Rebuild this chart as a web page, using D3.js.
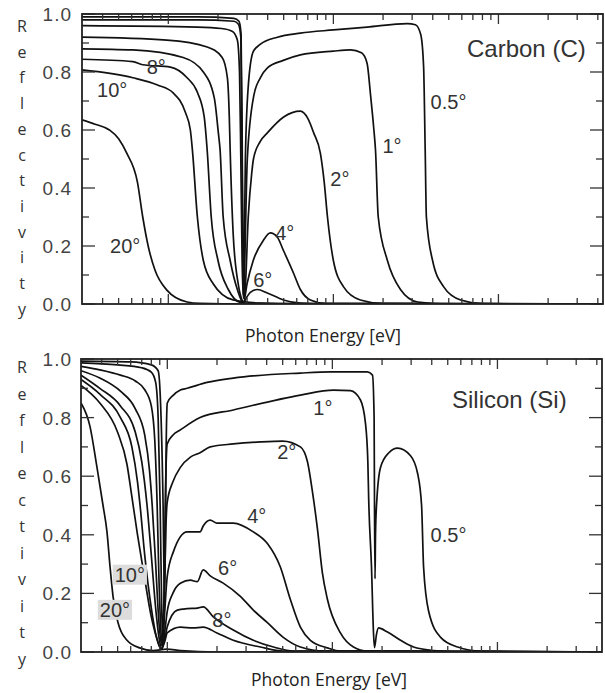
<!doctype html>
<html>
<head>
<meta charset="utf-8"/>
<title>Reflectivity C and Si</title>
<script src="https://d3js.org/d3.v7.min.js"></script>
<style>
body { margin:0; background:#fff; }
svg { display:block; }
</style>
</head>
<body>
<div id="chart"></div>
<script type="text/javascript">
// ---------------- data (photon energy in eV, reflectivity) ----------------
var energyDomain = [30, 43000];
var majorEnergyTicks = [100, 1000, 10000];
var minorEnergyTicks = [40,50,60,70,80,90,200,300,400,500,600,700,800,900,
                        2000,3000,4000,5000,6000,7000,8000,9000,20000,30000,40000];
var majorReflTicks = [0, 0.2, 0.4, 0.6, 0.8, 1.0];
var minorReflTicks = [0.1, 0.3, 0.5, 0.7, 0.9];
var yLetters = ["R","e","f","l","e","c","t","i","v","i","t","y"];
var xTitle = "Photon Energy [eV]";

// Carbon
var carbon05 = [[30,0.99],[150,0.99],[250,0.985],[268,0.975],[276,0.93],[280,0.6],[283,0.15],[285,0.03],[288,0.15],[293,0.5],[305,0.75],[327,0.87],[360,0.895],[458,0.92],[631,0.934],[1000,0.945],[1600,0.955],[2800,0.967],[3140,0.963],[3380,0.93],[3520,0.82],[3600,0.53],[3660,0.30],[3990,0.15],[4650,0.06],[5900,0.014],[8000,0.002],[43000,0]];
var carbon1 = [[30,0.98],[150,0.98],[250,0.975],[266,0.965],[275,0.92],[280,0.5],[284,0.08],[287,0.02],[292,0.2],[301,0.5],[330,0.72],[361,0.78],[400,0.815],[497,0.84],[631,0.859],[1000,0.872],[1270,0.876],[1480,0.866],[1600,0.83],[1680,0.72],[1760,0.6],[1800,0.53],[1870,0.30],[2125,0.15],[2550,0.05],[3240,0.007],[5000,0],[43000,0]];
var carbon2 = [[30,0.96],[150,0.955],[210,0.95],[245,0.94],[262,0.91],[270,0.80],[275,0.5],[280,0.15],[285,0.02],[292,0.05],[305,0.3],[320,0.45],[328,0.5],[360,0.56],[398,0.59],[500,0.645],[631,0.665],[700,0.64],[760,0.59],[834,0.52],[880,0.42],[921,0.30],[1000,0.15],[1150,0.06],[1456,0.014],[2000,0.002],[43000,0]];
var carbon4 = [[30,0.92],[98,0.91],[172,0.886],[212,0.85],[228,0.78],[234,0.65],[237,0.53],[247,0.245],[265,0.07],[281,0.01],[285,0.003],[300,0.07],[327,0.15],[377,0.22],[415,0.245],[458,0.23],[497,0.186],[573,0.107],[631,0.05],[726,0.014],[900,0.002],[43000,0]];
var carbon6 = [[30,0.88],[61,0.876],[123,0.85],[163,0.80],[190,0.71],[201,0.59],[206,0.53],[215,0.30],[237,0.15],[262,0.05],[284,0.005],[300,0.025],[314,0.04],[346,0.05],[398,0.038],[498,0.014],[631,0.003],[1000,0],[43000,0]];
var carbon8 = [[30,0.844],[61,0.836],[70,0.825],[103,0.817],[130,0.78],[150,0.73],[165,0.645],[172,0.53],[182,0.30],[200,0.15],[231,0.05],[273,0.005],[300,0.002],[43000,0]];
var carbon10 = [[30,0.807],[61,0.78],[86,0.755],[107,0.728],[127,0.66],[136,0.60],[140,0.53],[150,0.30],[163,0.15],[187,0.07],[247,0.014],[361,0.003],[600,0],[43000,0]];
var carbon20 = [[30,0.635],[36,0.62],[44,0.60],[50,0.57],[56,0.52],[65,0.42],[70,0.30],[75.5,0.20],[83,0.117],[98,0.048],[130,0.007],[156,0.002],[300,0],[43000,0]];

// Silicon
var silicon05 = [[30,0.993],[60,0.99],[80,0.98],[88,0.96],[91,0.85],[94.3,0.5],[96,0.2],[97,0.3],[98.4,0.7],[100,0.85],[108,0.875],[120,0.894],[132,0.90],[174,0.92],[251,0.935],[640,0.952],[973,0.956],[1630,0.956],[1750,0.945],[1790,0.8],[1800,0.5],[1813,0.25],[1825,0.4],[1851,0.5],[1957,0.63],[2200,0.68],[2481,0.696],[2976,0.67],[3282,0.61],[3471,0.50],[3569,0.29],[3827,0.14],[4527,0.05],[5740,0.017],[7914,0.003],[43000,0]];
var silicon1 = [[30,0.987],[50,0.98],[70,0.97],[80,0.955],[85,0.92],[88,0.8],[90.5,0.5],[92.5,0.15],[94,0.03],[95.5,0.2],[97.5,0.55],[99.8,0.71],[108,0.74],[120,0.758],[158,0.80],[251,0.826],[640,0.877],[1015,0.894],[1287,0.892],[1480,0.86],[1587,0.78],[1640,0.65],[1660,0.52],[1726,0.29],[1775,0.065],[1800,0.015],[1850,0.06],[1903,0.082],[2158,0.068],[2588,0.04],[3103,0.017],[4105,0.005],[6000,0],[43000,0]];
var silicon2 = [[30,0.975],[39,0.963],[52,0.945],[64,0.925],[73,0.895],[80,0.84],[84,0.72],[86.8,0.5],[89,0.25],[92,0.05],[94,0.02],[96,0.2],[98,0.42],[99.8,0.51],[108,0.58],[120,0.63],[138,0.665],[158,0.68],[182,0.70],[251,0.71],[365,0.717],[500,0.72],[640,0.70],[706,0.65],[756,0.55],[812,0.42],[870,0.27],[933,0.18],[1119,0.065],[1342,0.017],[1632,0.003],[43000,0]];
var silicon4 = [[30,0.96],[39,0.935],[52,0.89],[64,0.83],[73,0.74],[78,0.62],[81,0.50],[85,0.3],[89,0.1],[93,0.02],[96,0.12],[99.8,0.256],[108.5,0.34],[132,0.41],[143,0.41],[158,0.41],[165,0.43],[182,0.45],[200,0.44],[251,0.44],[332,0.41],[404,0.37],[484,0.29],[556,0.18],[640,0.085],[736,0.04],[933,0.014],[1119,0.003],[43000,0]];
var silicon6 = [[30,0.945],[39,0.90],[52,0.84],[64,0.75],[70,0.65],[75.4,0.50],[80,0.33],[85,0.15],[89,0.05],[93,0.01],[97,0.08],[99.8,0.137],[108,0.2],[120,0.235],[138,0.245],[152,0.24],[165,0.28],[182,0.26],[218,0.235],[277,0.19],[332,0.143],[404,0.10],[504,0.05],[640,0.017],[900,0.003],[43000,0]];
var silicon8 = [[30,0.93],[39,0.88],[52,0.80],[61,0.70],[66,0.58],[68.4,0.50],[73,0.33],[80,0.15],[86,0.05],[92,0.01],[97,0.05],[99.8,0.085],[115,0.143],[132,0.148],[152,0.15],[165,0.154],[190,0.12],[251,0.075],[332,0.04],[440,0.017],[580,0.003],[43000,0]];
var silicon10 = [[30,0.91],[39,0.85],[50,0.75],[57,0.64],[61,0.53],[66,0.40],[72,0.27],[80,0.12],[86,0.05],[92,0.01],[97,0.04],[99.8,0.065],[120,0.085],[143,0.082],[165,0.085],[200,0.065],[251,0.04],[366,0.017],[504,0.003],[43000,0]];
var silicon20 = [[30,0.85],[34,0.77],[37.5,0.63],[40.8,0.50],[43.1,0.41],[45,0.29],[46.9,0.19],[50.3,0.10],[57,0.04],[68,0.014],[82,0.005],[99,0.01],[120,0.005],[200,0],[43000,0]];

var carbonSeries = [carbon05, carbon1, carbon2, carbon4, carbon6, carbon8, carbon10, carbon20];
var siliconSeries = [silicon05, silicon1, silicon2, silicon4, silicon6, silicon8, silicon10, silicon20];

// curve labels: text, energy, reflectivity (anchor = left/baseline), gray box?
var carbonLabels = [["8°",74,0.793,false],["10°",37,0.714,false],["20°",44.4,0.176,false],
                    ["4°",444,0.22,false],["6°",327,0.059,false],["2°",959,0.407,false],
                    ["1°",1984,0.52,false],["0.5°",3883,0.672,false]];
var siliconLabels = [["1°",767,0.809,false],["2°",463,0.66,false],["4°",305,0.44,false],
                     ["6°",203,0.263,false],["8°",187.5,0.085,false],["10°",48,0.24,true],
                     ["20°",39,0.12,true],["0.5°",3937,0.375,false]];

// ---------------- drawing ----------------
var svg = d3.select("#chart").append("svg")
    .attr("width", 605)
    .attr("height", 693);

var panels = [
  {name:"Carbon (C)", series:carbonSeries, labels:carbonLabels,
   left:82, right:603, top:14, bottom:304, titleX:467, titleY:57,
   letterY0:32, letterStep:25.7, xTitleY:342, xTitleX:323, id:"c"},
  {name:"Silicon (Si)", series:siliconSeries, labels:siliconLabels,
   left:81, right:602, top:359, bottom:652, titleX:452, titleY:408,
   letterY0:373, letterStep:26.5, xTitleY:686, xTitleX:329, id:"s"}
];

panels.forEach(function(p) {
  var x = d3.scaleLog().domain(energyDomain).range([p.left, p.right]);
  var y = d3.scaleLinear().domain([0, 1]).range([p.bottom, p.top]);
  var g = svg.append("g");

  g.append("clipPath").attr("id", "clip" + p.id)
    .append("rect")
    .attr("x", p.left).attr("y", p.top - 1)
    .attr("width", p.right - p.left).attr("height", p.bottom - p.top + 1);

  // curves
  var line = d3.line()
      .x(function(d){ return x(d[0]); })
      .y(function(d){ return y(d[1]); })
      .curve(d3.curveMonotoneX);

  g.append("g").attr("clip-path", "url(#clip" + p.id + ")")
    .selectAll("path")
    .data(p.series)
    .enter()
    .append("path")
    .attr("d", line)
    .attr("fill", "none")
    .attr("stroke", "#111")
    .attr("stroke-width", 1.7)
    .attr("stroke-linejoin", "round");

  // ticks, all pointing inward
  var tickCol = "#333";
  function xTicks(vals, len) {
    vals.forEach(function(v) {
      var xx = x(v);
      if (xx > p.right) return;
      g.append("line").attr("x1", xx).attr("x2", xx)
        .attr("y1", p.bottom).attr("y2", p.bottom - len)
        .attr("stroke", tickCol).attr("stroke-width", 1.3);
      g.append("line").attr("x1", xx).attr("x2", xx)
        .attr("y1", p.top).attr("y2", p.top + len)
        .attr("stroke", tickCol).attr("stroke-width", 1.3);
    });
  }
  xTicks(majorEnergyTicks, 10);
  xTicks(minorEnergyTicks, 6);

  function yTicks(vals, len) {
    vals.forEach(function(v) {
      var yy = y(v);
      g.append("line").attr("x1", p.left).attr("x2", p.left + len)
        .attr("y1", yy).attr("y2", yy)
        .attr("stroke", tickCol).attr("stroke-width", 1.3);
      g.append("line").attr("x1", p.right).attr("x2", p.right - len)
        .attr("y1", yy).attr("y2", yy)
        .attr("stroke", tickCol).attr("stroke-width", 1.3);
    });
  }
  yTicks(majorReflTicks, 13);
  yTicks(minorReflTicks, 7);

  // frame
  g.append("rect")
    .attr("x", p.left).attr("y", p.top)
    .attr("width", p.right - p.left).attr("height", p.bottom - p.top)
    .attr("fill", "none").attr("stroke", "#222").attr("stroke-width", 1.8);

  // y tick labels
  g.selectAll("text.ytl")
    .data(majorReflTicks)
    .enter()
    .append("text")
    .attr("class", "ytl")
    .attr("x", 72)
    .attr("y", function(d){ return y(d) + 7; })
    .attr("text-anchor", "end")
    .attr("font-family", "Liberation Sans, Arial, sans-serif")
    .attr("font-size", 19)
    .attr("letter-spacing", 1)
    .attr("fill", "#444")
    .text(function(d){ return d.toFixed(1); });

  // vertical stacked axis title
  g.selectAll("text.yl")
    .data(yLetters)
    .enter()
    .append("text")
    .attr("class", "yl")
    .attr("x", 22)
    .attr("y", function(d, i){ return p.letterY0 + i * p.letterStep; })
    .attr("text-anchor", "middle")
    .attr("font-family", "Open Sans, sans-serif")
    .attr("font-size", 16)
    .attr("fill", "#333")
    .text(function(d){ return d; });

  // x title
  g.append("text")
    .attr("x", p.xTitleX).attr("y", p.xTitleY)
    .attr("text-anchor", "middle")
    .attr("font-family", "Open Sans, sans-serif")
    .attr("font-size", 17.5)
    .attr("fill", "#222")
    .text(xTitle);

  // panel title
  g.append("text")
    .attr("x", p.titleX).attr("y", p.titleY)
    .attr("font-family", "Liberation Sans, Arial, sans-serif")
    .attr("font-size", 24)
    .attr("fill", "#333")
    .text(p.name);

  // curve labels
  p.labels.forEach(function(l) {
    var lx = x(l[1]), ly = y(l[2]);
    var t = g.append("text")
      .attr("x", lx).attr("y", ly)
      .attr("font-family", "Liberation Sans, Arial, sans-serif")
      .attr("font-size", 20)
      .attr("fill", "#333")
      .text(l[0]);
    if (l[3]) {
      var bb = t.node().getBBox();
      g.insert("rect", function(){ return t.node(); })
        .attr("x", bb.x - 2).attr("y", bb.y + 1)
        .attr("width", bb.width + 4).attr("height", bb.height - 2)
        .attr("fill", "#dcdcdc");
    }
  });
});
</script>
</body>
</html>
